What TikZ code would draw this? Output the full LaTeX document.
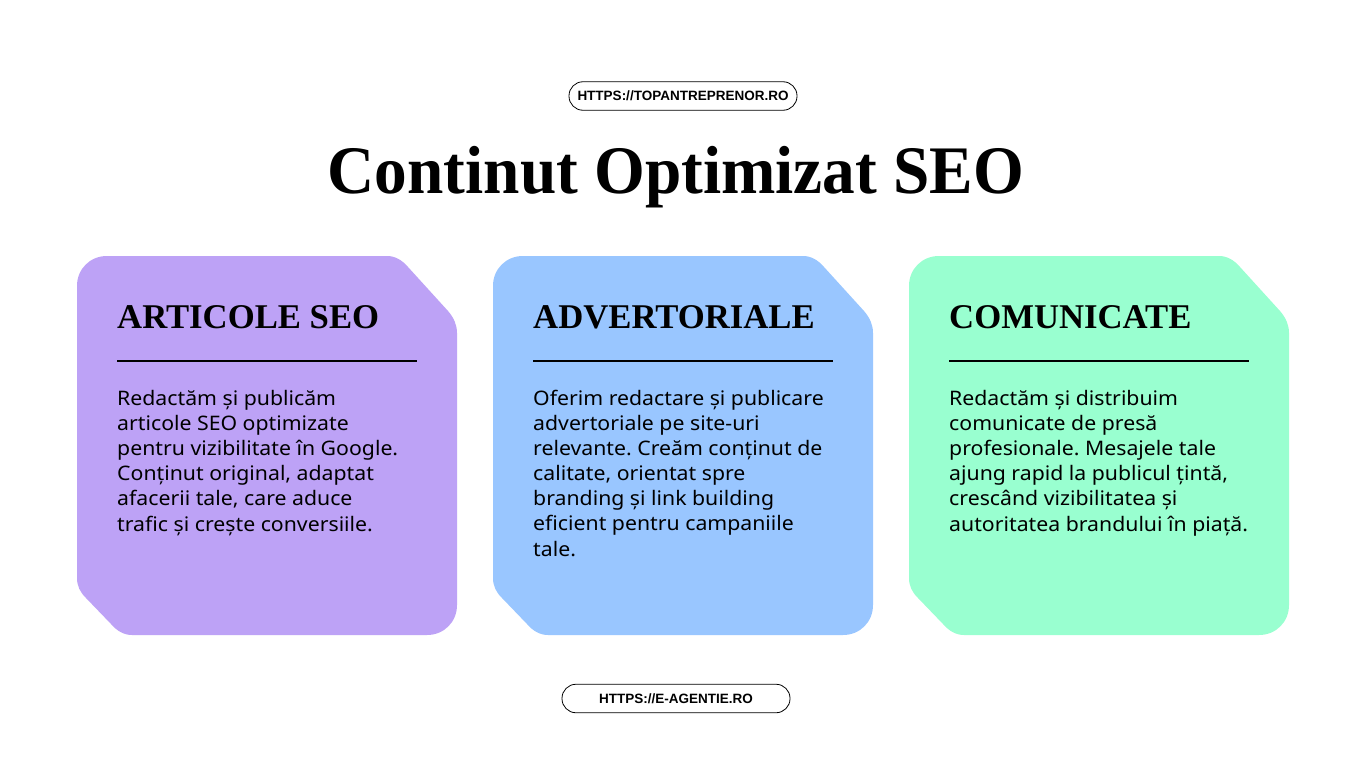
\documentclass[tikz,border=0pt]{standalone}
\usepackage{fontspec}
\setmainfont{Liberation Serif}
\newfontfamily\titlefont[FakeStretch=0.96]{Liberation Serif}
\newfontfamily\bodyfont[FakeStretch=1.063]{Noto Sans}
\newfontfamily\pillfont{Liberation Sans}
\definecolor{cardpurple}{HTML}{BDA2F6}
\definecolor{cardblue}{HTML}{99C6FF}
\definecolor{cardgreen}{HTML}{99FFD0}
\tikzset{x=1pt,y=-1pt,
  headtext/.style={anchor=base west,inner sep=0pt,font=\fontsize{34.7}{35}\selectfont\bfseries},
  bodytext/.style={anchor=base west,inner sep=0pt,align=left,font=\bodyfont\fontsize{20}{25.1}\selectfont\frenchspacing},
  pill/.style={draw=black,line width=0.8pt,fill=white,rounded corners=14pt,minimum width=228pt,minimum height=28.5pt,inner sep=0pt,font=\pillfont\bfseries\fontsize{13.5}{13.5}\selectfont},
  rulestyle/.style={line width=1.6pt,black}}
\newcommand{\cardshape}[2]{%
  \fill[#2,shift={(#1,0)}] (107,256) -- (387,256)
    .. controls (395,256) and (402,260) .. (408,267)
    -- (448,311) .. controls (454,318) and (457,325) .. (457,333)
    -- (457,605) .. controls (457,622) and (444,635) .. (427,635)
    -- (132,635) .. controls (124,635) and (117,631) .. (111,624)
    -- (86,598) .. controls (80,592) and (77,586) .. (77,578)
    -- (77,286) .. controls (77,269) and (90,256) .. (107,256) -- cycle;}
\begin{document}
\begin{tikzpicture}
\useasboundingbox (0,0) rectangle (1366,768);
\fill[white] (0,0) rectangle (1366,768);
\node[pill] (pillA) at (683,96) {HTTPS://TOPANTREPRENOR.RO};
\node[pill] (pillB) at (676,698.5) {HTTPS://E-AGENTIE.RO};
\node[inner sep=0pt,anchor=base,font=\titlefont\fontsize{68}{68}\selectfont\bfseries] (title) at (676,193.5) {Continut Optimizat SEO};
\cardshape{0}{cardpurple}
\cardshape{416}{cardblue}
\cardshape{832}{cardgreen}
\node[headtext] (headA) at (117,328) {ARTICOLE SEO};
\node[headtext] (headB) at (533,328) {ADVERTORIALE};
\node[headtext] (headC) at (949,328) {COMUNICATE};
\coordinate (ruleAl) at (117,361); \coordinate (ruleAr) at (417,361);
\coordinate (ruleBl) at (533,361); \coordinate (ruleBr) at (833,361);
\coordinate (ruleCl) at (949,361); \coordinate (ruleCr) at (1249,361);
\draw[rulestyle] (ruleAl) -- (ruleAr);
\draw[rulestyle] (ruleBl) -- (ruleBr);
\draw[rulestyle] (ruleCl) -- (ruleCr);
\node[bodytext] (bodyA) at (117,531) {Redactăm și publicăm\\articole SEO optimizate\\pentru vizibilitate în Google.\\Conținut original, adaptat\\afacerii tale, care aduce\\trafic și crește conversiile.};
\node[bodytext] (bodyB) at (533,556) {Oferim redactare și publicare\\advertoriale pe site-uri\\relevante. Creăm conținut de\\calitate, orientat spre\\branding și link building\\eficient pentru campaniile\\tale.};
\node[bodytext] (bodyC) at (949,531) {Redactăm și distribuim\\comunicate de presă\\profesionale. Mesajele tale\\ajung rapid la publicul țintă,\\crescând vizibilitatea și\\autoritatea brandului în piață.};
\end{tikzpicture}
\end{document}
